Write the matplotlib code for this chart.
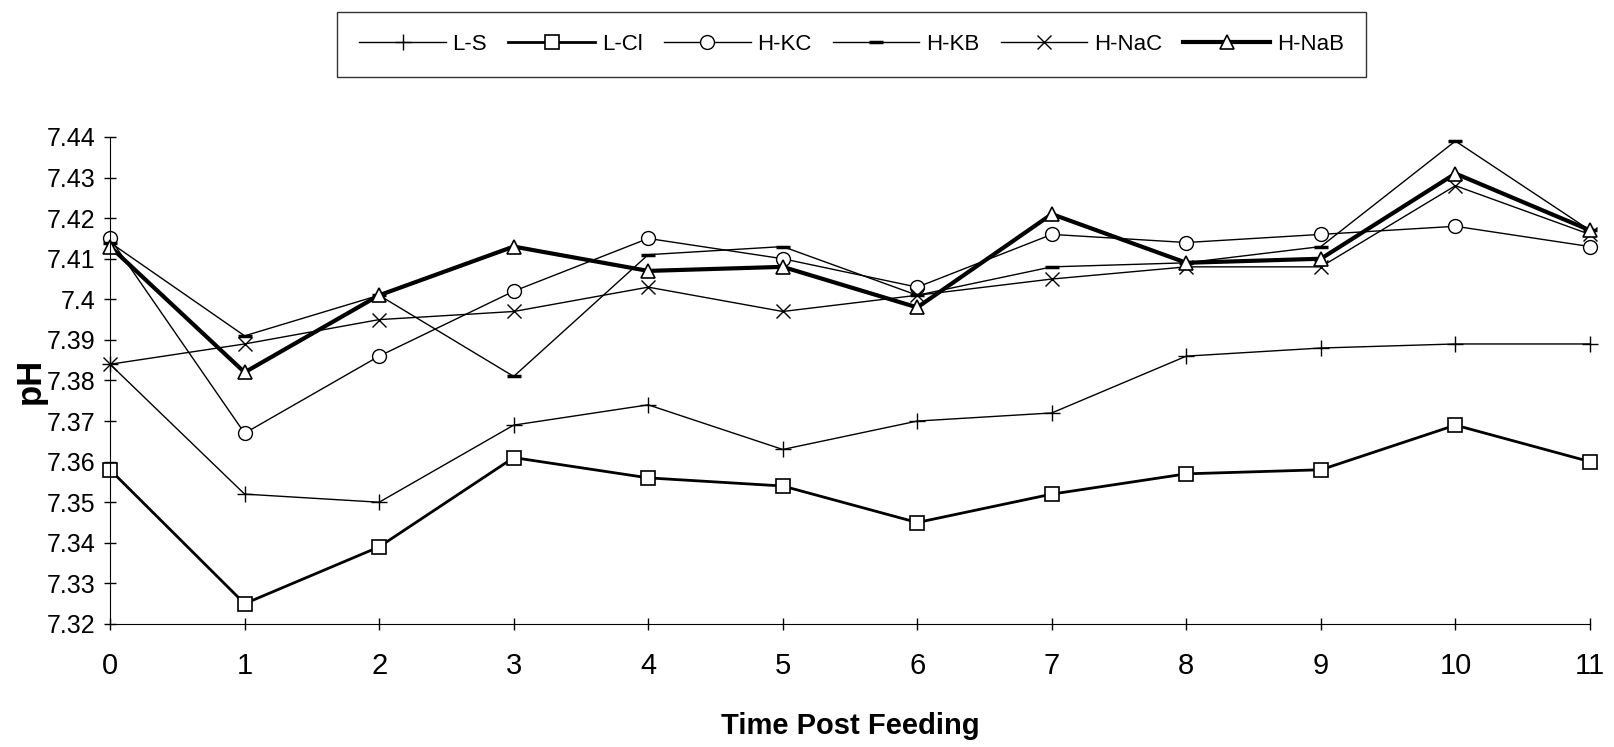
import matplotlib
matplotlib.use("Agg")
import matplotlib.pyplot as plt
import numpy as np

plt.rcParams['font.family'] = ['Liberation Sans', 'DejaVu Sans']

# time post feeding
hours = np.arange(12)

l_s = [7.384, 7.352, 7.350, 7.369, 7.374, 7.363, 7.370, 7.372, 7.386, 7.388, 7.389, 7.389]
l_cl = [7.358, 7.325, 7.339, 7.361, 7.356, 7.354, 7.345, 7.352, 7.357, 7.358, 7.369, 7.360]
h_kc = [7.415, 7.367, 7.386, 7.402, 7.415, 7.410, 7.403, 7.416, 7.414, 7.416, 7.418, 7.413]
h_kb = [7.414, 7.391, 7.401, 7.381, 7.411, 7.413, 7.401, 7.408, 7.409, 7.413, 7.439, 7.417]
h_nac = [7.384, 7.389, 7.395, 7.397, 7.403, 7.397, 7.401, 7.405, 7.408, 7.408, 7.428, 7.416]
h_nab = [7.413, 7.382, 7.401, 7.413, 7.407, 7.408, 7.398, 7.421, 7.409, 7.410, 7.431, 7.417]

labels = ["L-S", "L-Cl", "H-KC", "H-KB", "H-NaC", "H-NaB"]
y_ticks = [7.32, 7.33, 7.34, 7.35, 7.36, 7.37, 7.38, 7.39, 7.40, 7.41, 7.42, 7.43, 7.44]

fig = plt.figure(figsize=(16.14, 7.47), dpi=100)
ax = fig.add_axes([0.0682, 0.1647, 0.9169, 0.6519])

wf = dict(markerfacecolor='white', markeredgecolor='black')
ax.plot(hours, l_s, color='black', lw=1.0, marker='+', ms=12, mew=1.0, label=labels[0], clip_on=False)
ax.plot(hours, l_cl, color='black', lw=2.0, marker='s', ms=10, mew=1.2, label=labels[1], clip_on=False, **wf)
ax.plot(hours, h_kc, color='black', lw=1.0, marker='o', ms=10, mew=1.0, label=labels[2], clip_on=False, **wf)
ax.plot(hours, h_kb, color='black', lw=1.0, marker='_', ms=10, mew=2.5, label=labels[3], clip_on=False)
ax.plot(hours, h_nac, color='black', lw=1.0, marker='x', ms=10, mew=1.0, label=labels[4], clip_on=False)
ax.plot(hours, h_nab, color='black', lw=3.0, marker='^', ms=10, mew=1.2, label=labels[5], clip_on=False, **wf)

ax.set_xlim(0, 11)
ax.set_ylim(7.32, 7.44)
ax.set_xticks(hours)
ax.set_yticks(y_ticks)
ax.set_yticklabels(["%g" % round(v, 2) for v in y_ticks])
ax.spines['top'].set_visible(False)
ax.spines['right'].set_visible(False)
ax.tick_params(axis='both', direction='inout', length=9, width=1)
ax.tick_params(axis='y', pad=6, labelsize=18)
ax.tick_params(axis='x', pad=16, labelsize=21)

ax.set_xlabel("Time Post Feeding", fontsize=21, fontweight='bold')
ax.xaxis.set_label_coords(0.5, -0.209)
ax.xaxis.label.set_va('center')
ax.set_ylabel("pH", fontsize=25, fontweight='bold')
ax.yaxis.set_label_coords(-0.054, 0.5)
ax.yaxis.label.set_va('center')

leg = fig.legend(loc='center', ncol=6, mode='expand',
                 bbox_to_anchor=(337 / 1614, 1 - 82 / 747, 1029 / 1614, 75 / 747),
                 fontsize=16, handlelength=3.9, handletextpad=0.3,
                 fancybox=False, borderpad=1.0, borderaxespad=0)
leg.get_frame().set_edgecolor('black')
leg.get_frame().set_linewidth(1.0)

fig.savefig("out.png", dpi=100)
